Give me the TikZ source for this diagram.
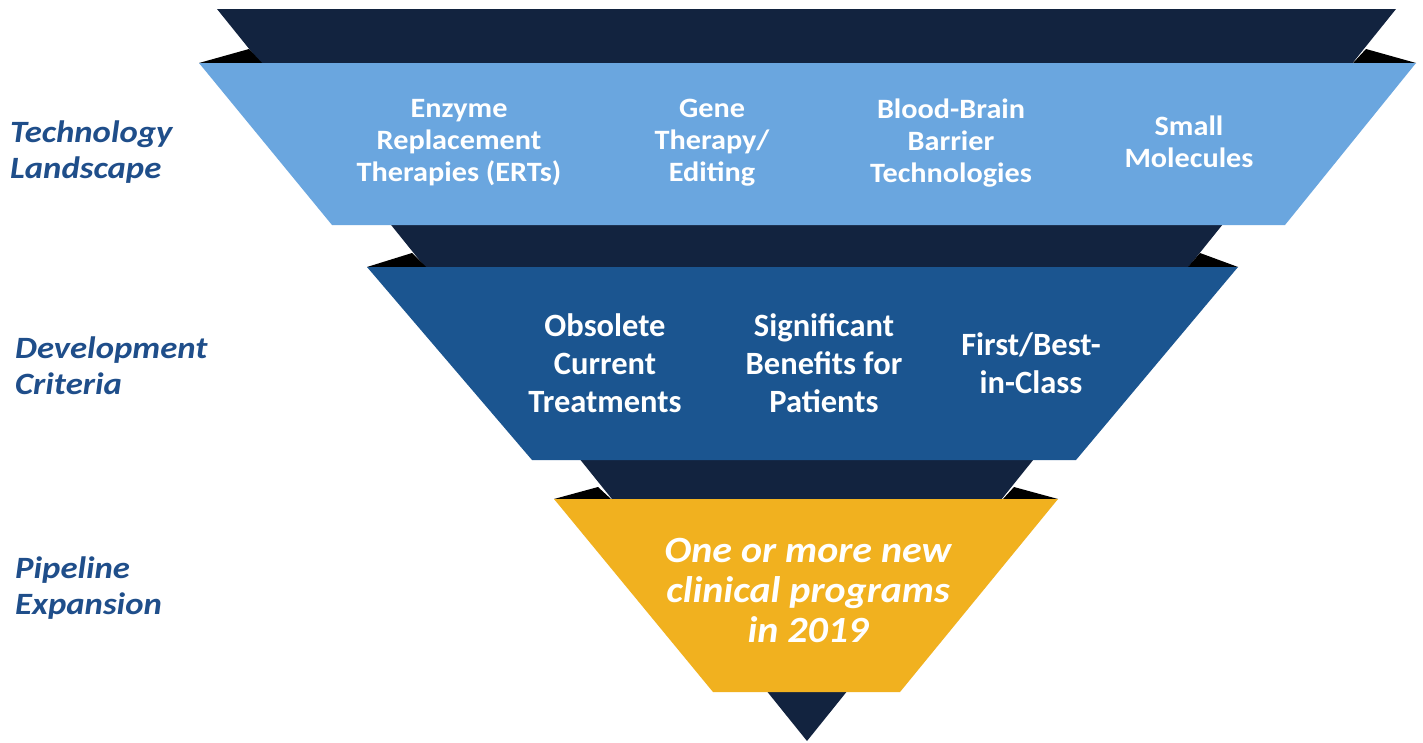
\documentclass[tikz,border=0pt]{standalone}
\usepackage{fontspec}
\setmainfont{Carlito}
\newfontfamily\topfont[FakeStretch=1.08]{Carlito}
\newfontfamily\sidefont[FakeStretch=1.12]{Carlito}
\newfontfamily\goldfont[FakeStretch=1.08]{Carlito}
\definecolor{navy}{HTML}{12233F}
\definecolor{lightband}{HTML}{6AA6DF}
\definecolor{midband}{HTML}{1B5590}
\definecolor{goldband}{HTML}{F1B11F}
\definecolor{labelblue}{HTML}{1F4E8A}
\begin{document}
\begin{tikzpicture}[x=1pt,y=-1pt,
  bandtxt/.style={text=white,align=center,font=\topfont\bfseries\fontsize{28}{32}\selectfont,inner sep=0pt},
  midtxt/.style={text=white,align=center,font=\bfseries\fontsize{32.5}{38}\selectfont,inner sep=0pt},
  goldtxt/.style={text=white,align=center,font=\goldfont\bfseries\itshape\fontsize{37}{40}\selectfont,inner sep=0pt},
  sidetxt/.style={text=labelblue,align=left,anchor=west,font=\sidefont\bfseries\itshape\fontsize{31}{36}\selectfont,inner sep=0pt}]
\useasboundingbox[fill=white] (0,0) rectangle (1423,742);
% big navy funnel
\fill[navy] (217,9) -- (1396,9) -- (807,741) -- cycle;
% shadow wedges
\fill[black] (199,63) -- (249,49) -- (262,63) -- cycle;
\fill[black] (1416,63) -- (1366,49) -- (1353,63) -- cycle;
\fill[black] (367,267) -- (412,253) -- (426,267) -- cycle;
\fill[black] (1238,267) -- (1200,253) -- (1188,267) -- cycle;
\fill[black] (554,499) -- (598,487) -- (611,499) -- cycle;
\fill[black] (1058,499) -- (1014,487) -- (1003,499) -- cycle;
% bands
\fill[lightband] (199,63) -- (1416,63) -- (1285,225) -- (332,225) -- cycle;
\fill[midband] (367,267) -- (1238,267) -- (1076,460) -- (532,460) -- cycle;
\fill[goldband] (554,499) -- (1058,499) -- (900,692) -- (713,692) -- cycle;
% band texts
\node[bandtxt] (ert) at (459,143) {Enzyme\\Replacement\\Therapies (ERTs)};
\node[bandtxt] (gene) at (712,143) {Gene\\Therapy/\\Editing};
\node[bandtxt] (bbb) at (951,143) {Blood-Brain\\Barrier\\Technologies};
\node[bandtxt] (small) at (1189,142) {Small\\Molecules};
\node[midtxt] (obs) at (605,363) {Obsolete\\Current\\Treatments};
\node[midtxt] (sig) at (824,363) {Significant\\Benefits for\\Patients};
\node[midtxt] (first) at (1031,363) {First/Best-\\in-Class};
\node[goldtxt] (prog) at (808,590) {One or more new\\clinical programs\\in 2019};
% side labels
\node[sidetxt] (tech) at (10,152) {Technology\\Landscape};
\node[sidetxt] (dev) at (15,366) {Development\\Criteria};
\node[sidetxt] (pipe) at (15,588) {Pipeline\\Expansion};
\end{tikzpicture}
\end{document}
